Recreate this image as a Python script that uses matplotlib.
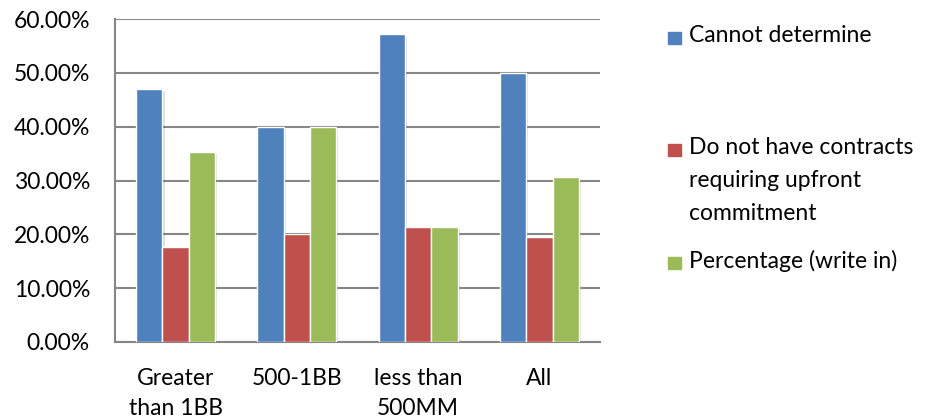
import numpy as np
import matplotlib.pyplot as plt
from matplotlib.patches import Rectangle
from matplotlib.ticker import FuncFormatter
import matplotlib.patheffects as pe

plt.rcParams['font.family'] = ['Lato', 'DejaVu Sans']
plt.rcParams['font.size'] = 16.5

# Data
categories = ['Greater\nthan 1BB', '500-1BB', 'less than\n500MM', 'All']
series_names = ['Cannot determine',
                'Do not have contracts\nrequiring upfront\ncommitment',
                'Percentage (write in)']
cannot_determine = [47.06, 40.00, 57.14, 50.00]
no_contracts = [17.65, 20.00, 21.43, 19.44]
percentage_write_in = [35.29, 40.00, 21.43, 30.56]
colors = ['#4F81BD', '#C0504D', '#9BBB59']

fig = plt.figure(figsize=(9.28, 4.2), dpi=100)
ax = fig.add_axes([115 / 928, 1 - 342 / 420, 485 / 928, 323 / 420])

x = np.arange(len(categories))
w = 0.217
shadow = [pe.SimplePatchShadow(offset=(1.5, -1.5), alpha=0.15), pe.Normal()]
for i, vals in enumerate([cannot_determine, no_contracts, percentage_write_in]):
    ax.bar(x + (i - 1) * w, vals, w, color=colors[i], edgecolor='white',
           linewidth=1.0, zorder=3, path_effects=shadow)

ax.set_xlim(-0.5, len(categories) - 0.5)
ax.set_ylim(0, 60)
ax.set_yticks(np.arange(0, 61, 10))
ax.yaxis.set_major_formatter(FuncFormatter(lambda v, _: '{:.2f}%'.format(v)))
ax.grid(axis='y', color='#868686', linewidth=1.5, zorder=0)
ax.set_xticks(x)
ax.set_xticklabels(categories, linespacing=1.5)
ax.tick_params(axis='both', length=0)
ax.tick_params(axis='y', pad=18)
ax.tick_params(axis='x', pad=19)

for s in ['top', 'right']:
    ax.spines[s].set_visible(False)
for s in ['left', 'bottom']:
    ax.spines[s].set_color('#868686')
    ax.spines[s].set_linewidth(1.5)

# legend on the right
leg_y = [38, 150, 263]
for name, c, yy in zip(series_names, colors, leg_y):
    fig.patches.append(Rectangle((668 / 928, 1 - (yy + 6) / 420), 13 / 928, 12 / 420,
                                 transform=fig.transFigure, color=c))
    # first line centred on the marker
    fig.text(689 / 928, 1 - (yy - 13) / 420, name, va='top', ha='left',
             linespacing=1.7, transform=fig.transFigure)

fig.savefig('out.png', dpi=100)
